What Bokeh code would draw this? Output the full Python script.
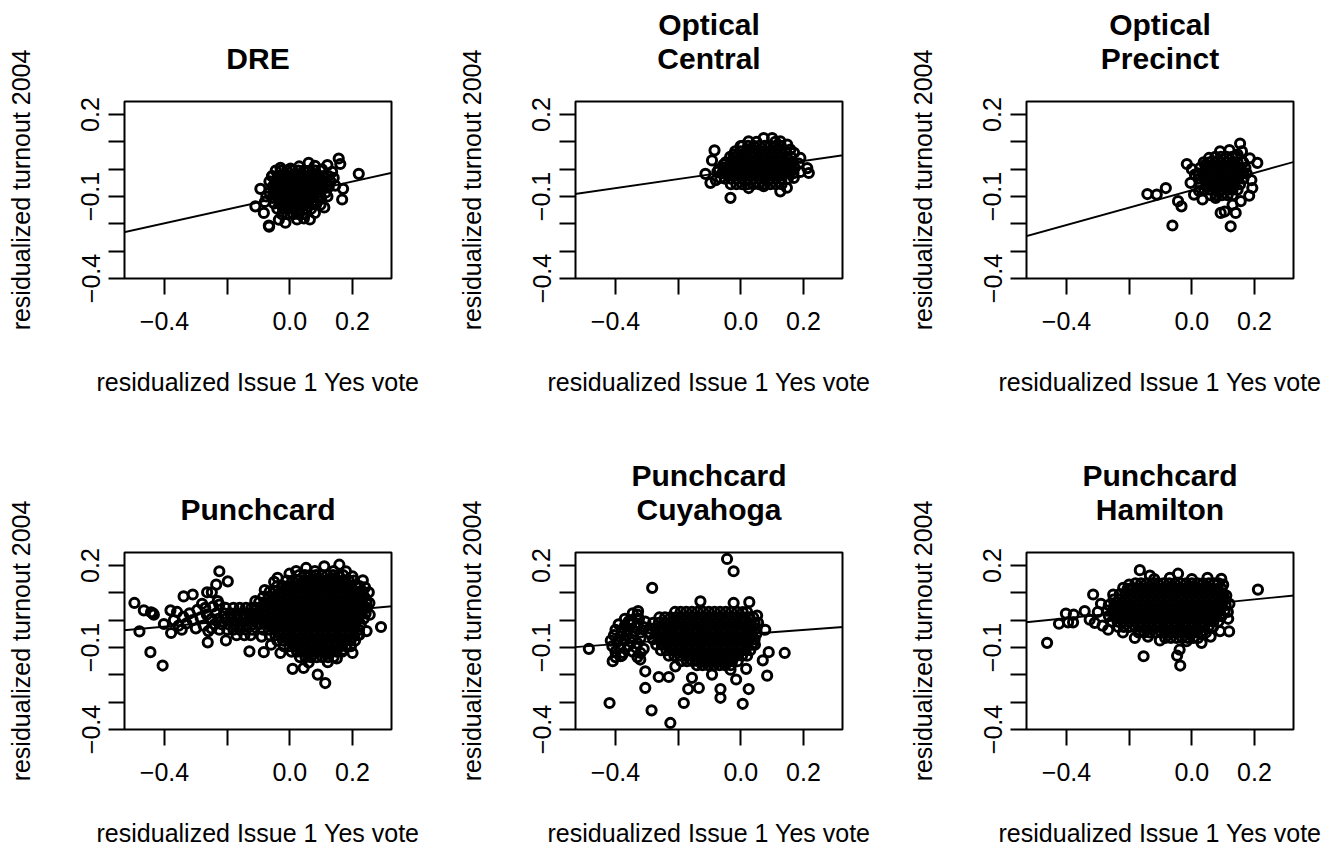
from bokeh.plotting import figure
from bokeh.models import Range1d, FixedTicker, Slope, LinearAxis
from bokeh.layouts import column, row
from bokeh.embed import file_html
from bokeh.resources import INLINE

FONT = "Liberation Sans"

titles = [["DRE"], ["Optical", "Central"], ["Optical", "Precinct"],
          ["Punchcard"], ["Punchcard", "Cuyahoga"], ["Punchcard", "Hamilton"]]
x_label = "residualized Issue 1 Yes vote"
y_label = "residualized turnout 2004"
x_ticks = [-0.4, -0.2, 0.0, 0.2]
x_tick_labels = ["\u22120.4", "", "0.0", "0.2"]
y_ticks = [-0.4, -0.3, -0.2, -0.1, 0.0, 0.1, 0.2]
y_tick_labels = ["\u22120.4", "", "", "\u22120.1", "", "", "0.2"]

# fitted regression lines (intercept, slope)
line_intercepts = [-0.096, -0.003, -0.077, 0.0175, -0.053, 0.053]
line_slopes = [0.255, 0.166, 0.318, 0.103, 0.086, 0.115]

# ---------------- DRE ----------------
dre_pts = [
    (-0.045, -0.005), (-0.027, -0.005), (-0.009, -0.005), (0.009, -0.005), (0.027, -0.005), (0.045, -0.005), (0.063, -0.005), (0.081, -0.005), (0.099, -0.005),
    (-0.056, -0.025), (-0.038, -0.025), (-0.02, -0.025), (-0.002, -0.025), (0.016, -0.025), (0.034, -0.025), (0.052, -0.025), (0.07, -0.025), (0.088, -0.025), (0.106, -0.025), (0.124, -0.025),
    (-0.065, -0.045), (-0.047, -0.045), (-0.029, -0.045), (-0.011, -0.045), (0.007, -0.045), (0.025, -0.045), (0.043, -0.045), (0.061, -0.045), (0.079, -0.045), (0.097, -0.045), (0.115, -0.045), (0.13, -0.045),
    (-0.056, -0.065), (-0.038, -0.065), (-0.02, -0.065), (-0.002, -0.065), (0.016, -0.065), (0.034, -0.065), (0.052, -0.065), (0.07, -0.065), (0.088, -0.065), (0.106, -0.065), (0.124, -0.065),
    (-0.065, -0.085), (-0.047, -0.085), (-0.029, -0.085), (-0.011, -0.085), (0.007, -0.085), (0.025, -0.085), (0.043, -0.085), (0.061, -0.085), (0.079, -0.085), (0.097, -0.085), (0.115, -0.085),
    (-0.056, -0.105), (-0.038, -0.105), (-0.02, -0.105), (-0.002, -0.105), (0.016, -0.105), (0.034, -0.105), (0.052, -0.105), (0.07, -0.105), (0.088, -0.105), (0.1, -0.105),
    (-0.05, -0.125), (-0.032, -0.125), (-0.014, -0.125), (0.004, -0.125), (0.022, -0.125), (0.04, -0.125), (0.058, -0.125), (0.076, -0.125), (0.085, -0.125),
    (-0.04, -0.145), (-0.022, -0.145), (-0.004, -0.145), (0.014, -0.145), (0.032, -0.145), (0.05, -0.145), (0.068, -0.145),
    (-0.025, -0.165), (-0.007, -0.165), (0.011, -0.165), (0.029, -0.165), (0.047, -0.165),
    (0.156, 0.039), (0.161, 0.019), (0.22, -0.017), (0.17, -0.072), (0.167, -0.111), (0.06, 0.023), (0.103, -0.001),
    (-0.094, -0.072), (-0.11, -0.136), (-0.067, -0.206), (-0.066, -0.21), (-0.014, -0.196), (0.064, -0.184), (0.023, -0.184),
    (0.002, 0.002), (-0.057, -0.026), (-0.083, -0.16), (0.14, -0.032), (0.098, -0.13), (0.135, -0.01), (0.145, -0.06),
    (0.12, -0.1), (0.11, -0.14), (-0.075, -0.1), (-0.08, -0.12), (-0.035, -0.185), (0.045, -0.18), (0.08, -0.16),
    (0.03, 0.01), (-0.03, 0.005), (0.08, 0.012), (0.12, 0.015),
]

# ---------------- Optical Central ----------------
oc_pts = [
    (0.005, 0.085), (0.023, 0.085), (0.041, 0.085), (0.059, 0.085), (0.077, 0.085), (0.095, 0.085), (0.113, 0.085), (0.128, 0.085),
    (-0.018, 0.065), (0.0, 0.065), (0.018, 0.065), (0.036, 0.065), (0.054, 0.065), (0.072, 0.065), (0.09, 0.065), (0.108, 0.065), (0.126, 0.065), (0.144, 0.065),
    (-0.034, 0.045), (-0.016, 0.045), (0.002, 0.045), (0.02, 0.045), (0.038, 0.045), (0.056, 0.045), (0.074, 0.045), (0.092, 0.045), (0.11, 0.045), (0.128, 0.045), (0.146, 0.045), (0.16, 0.045),
    (-0.048, 0.025), (-0.03, 0.025), (-0.012, 0.025), (0.006, 0.025), (0.024, 0.025), (0.042, 0.025), (0.06, 0.025), (0.078, 0.025), (0.096, 0.025), (0.114, 0.025), (0.132, 0.025), (0.15, 0.025), (0.166, 0.025),
    (-0.055, 0.005), (-0.037, 0.005), (-0.019, 0.005), (-0.001, 0.005), (0.017, 0.005), (0.035, 0.005), (0.053, 0.005), (0.071, 0.005), (0.089, 0.005), (0.107, 0.005), (0.125, 0.005), (0.143, 0.005), (0.161, 0.005), (0.172, 0.005),
    (-0.06, -0.015), (-0.042, -0.015), (-0.024, -0.015), (-0.006, -0.015), (0.012, -0.015), (0.03, -0.015), (0.048, -0.015), (0.066, -0.015), (0.084, -0.015), (0.102, -0.015), (0.12, -0.015), (0.138, -0.015), (0.156, -0.015), (0.168, -0.015),
    (-0.05, -0.035), (-0.032, -0.035), (-0.014, -0.035), (0.004, -0.035), (0.022, -0.035), (0.04, -0.035), (0.058, -0.035), (0.076, -0.035), (0.094, -0.035), (0.112, -0.035), (0.13, -0.035), (0.15, -0.035),
    (-0.032, -0.055), (-0.014, -0.055), (0.004, -0.055), (0.022, -0.055), (0.04, -0.055), (0.058, -0.055), (0.076, -0.055), (0.094, -0.055), (0.112, -0.055), (0.13, -0.055),
    (-0.084, 0.069), (-0.092, 0.032), (-0.113, -0.017), (-0.097, -0.05), (-0.033, -0.105), (-0.023, 0.053), (0.217, -0.014),
    (0.212, 0.004), (0.126, -0.081), (0.073, 0.114), (0.1, 0.114), (0.025, 0.102), (0.025, -0.069), (-0.055, 0.017),
    (0.148, 0.09), (0.169, -0.032), (0.19, 0.041), (-0.065, -0.032), (0.073, -0.062), (0.147, -0.068), (0.126, 0.102),
    (0.158, 0.072), (-0.001, 0.084), (-0.075, -0.01), (-0.08, -0.04), (-0.07, 0.0), (0.05, 0.1), (0.11, 0.1),
    (0.185, 0.02), (0.19, -0.01), (0.17, 0.06),
]

# ---------------- Optical Precinct ----------------
op_pts = [
    (0.075, 0.045), (0.093, 0.045), (0.111, 0.045), (0.129, 0.045), (0.142, 0.045),
    (0.038, 0.025), (0.056, 0.025), (0.074, 0.025), (0.092, 0.025), (0.11, 0.025), (0.128, 0.025), (0.146, 0.025), (0.164, 0.025),
    (0.027, 0.005), (0.045, 0.005), (0.063, 0.005), (0.081, 0.005), (0.099, 0.005), (0.117, 0.005), (0.135, 0.005), (0.153, 0.005), (0.171, 0.005),
    (0.02, -0.015), (0.038, -0.015), (0.056, -0.015), (0.074, -0.015), (0.092, -0.015), (0.11, -0.015), (0.128, -0.015), (0.146, -0.015), (0.164, -0.015), (0.175, -0.015),
    (0.022, -0.035), (0.04, -0.035), (0.058, -0.035), (0.076, -0.035), (0.094, -0.035), (0.112, -0.035), (0.13, -0.035), (0.148, -0.035), (0.165, -0.035),
    (0.028, -0.055), (0.046, -0.055), (0.064, -0.055), (0.082, -0.055), (0.1, -0.055), (0.118, -0.055), (0.136, -0.055), (0.154, -0.055),
    (0.04, -0.075), (0.058, -0.075), (0.076, -0.075), (0.094, -0.075), (0.112, -0.075), (0.13, -0.075), (0.146, -0.075),
    (0.06, -0.095), (0.078, -0.095), (0.096, -0.095), (0.114, -0.095), (0.13, -0.095),
    (-0.142, -0.091), (-0.112, -0.093), (-0.083, -0.069), (-0.062, -0.206), (-0.044, -0.117), (-0.033, -0.136), (-0.016, 0.019),
    (0.154, 0.094), (0.209, 0.023), (0.124, -0.209), (0.092, -0.16), (0.14, -0.16), (0.183, -0.097), (0.193, -0.069),
    (0.055, 0.041), (0.044, 0.017), (-0.004, -0.05), (0.146, 0.053), (0.156, -0.117), (0.13, -0.13), (0.105, -0.155),
    (0.034, -0.111), (0.076, -0.105), (0.007, -0.093), (0.023, -0.08), (0.01, -0.02), (0.0, 0.0), (0.16, 0.065),
    (0.12, 0.07), (0.09, 0.065), (0.185, 0.04), (0.19, -0.04),
]

# ---------------- Punchcard ----------------
pc_pts = [
    (0.03, 0.165), (0.048, 0.165), (0.066, 0.165), (0.084, 0.165), (0.102, 0.165), (0.12, 0.165), (0.138, 0.165), (0.156, 0.165), (0.17, 0.165),
    (-0.01, 0.145), (0.008, 0.145), (0.026, 0.145), (0.044, 0.145), (0.062, 0.145), (0.08, 0.145), (0.098, 0.145), (0.116, 0.145), (0.134, 0.145), (0.152, 0.145), (0.17, 0.145), (0.188, 0.145), (0.205, 0.145),
    (-0.04, 0.125), (-0.022, 0.125), (-0.004, 0.125), (0.014, 0.125), (0.032, 0.125), (0.05, 0.125), (0.068, 0.125), (0.086, 0.125), (0.104, 0.125), (0.122, 0.125), (0.14, 0.125), (0.158, 0.125), (0.176, 0.125), (0.194, 0.125), (0.212, 0.125), (0.222, 0.125),
    (-0.064, 0.105), (-0.046, 0.105), (-0.028, 0.105), (-0.01, 0.105), (0.008, 0.105), (0.026, 0.105), (0.044, 0.105), (0.062, 0.105), (0.08, 0.105), (0.098, 0.105), (0.116, 0.105), (0.134, 0.105), (0.152, 0.105), (0.17, 0.105), (0.188, 0.105), (0.206, 0.105), (0.224, 0.105), (0.232, 0.105),
    (-0.085, 0.085), (-0.067, 0.085), (-0.049, 0.085), (-0.031, 0.085), (-0.013, 0.085), (0.005, 0.085), (0.023, 0.085), (0.041, 0.085), (0.059, 0.085), (0.077, 0.085), (0.095, 0.085), (0.113, 0.085), (0.131, 0.085), (0.149, 0.085), (0.167, 0.085), (0.185, 0.085), (0.203, 0.085), (0.221, 0.085), (0.238, 0.085),
    (-0.098, 0.065), (-0.08, 0.065), (-0.062, 0.065), (-0.044, 0.065), (-0.026, 0.065), (-0.008, 0.065), (0.01, 0.065), (0.028, 0.065), (0.046, 0.065), (0.064, 0.065), (0.082, 0.065), (0.1, 0.065), (0.118, 0.065), (0.136, 0.065), (0.154, 0.065), (0.172, 0.065), (0.19, 0.065), (0.208, 0.065), (0.226, 0.065), (0.244, 0.065),
    (-0.106, 0.045), (-0.088, 0.045), (-0.07, 0.045), (-0.052, 0.045), (-0.034, 0.045), (-0.016, 0.045), (0.002, 0.045), (0.02, 0.045), (0.038, 0.045), (0.056, 0.045), (0.074, 0.045), (0.092, 0.045), (0.11, 0.045), (0.128, 0.045), (0.146, 0.045), (0.164, 0.045), (0.182, 0.045), (0.2, 0.045), (0.218, 0.045), (0.236, 0.045), (0.246, 0.045),
    (-0.104, 0.025), (-0.08, 0.025), (-0.062, 0.025), (-0.044, 0.025), (-0.026, 0.025), (-0.008, 0.025), (0.01, 0.025), (0.028, 0.025), (0.046, 0.025), (0.064, 0.025), (0.082, 0.025), (0.1, 0.025), (0.118, 0.025), (0.136, 0.025), (0.154, 0.025), (0.172, 0.025), (0.19, 0.025), (0.208, 0.025), (0.226, 0.025), (0.242, 0.025),
    (-0.106, 0.005), (-0.088, 0.005), (-0.07, 0.005), (-0.052, 0.005), (-0.034, 0.005), (-0.016, 0.005), (0.002, 0.005), (0.02, 0.005), (0.038, 0.005), (0.056, 0.005), (0.074, 0.005), (0.092, 0.005), (0.11, 0.005), (0.128, 0.005), (0.146, 0.005), (0.164, 0.005), (0.182, 0.005), (0.2, 0.005), (0.218, 0.005), (0.236, 0.005),
    (-0.098, -0.015), (-0.08, -0.015), (-0.062, -0.015), (-0.044, -0.015), (-0.026, -0.015), (-0.008, -0.015), (0.01, -0.015), (0.028, -0.015), (0.046, -0.015), (0.064, -0.015), (0.082, -0.015), (0.1, -0.015), (0.118, -0.015), (0.136, -0.015), (0.154, -0.015), (0.172, -0.015), (0.19, -0.015), (0.208, -0.015), (0.226, -0.015),
    (-0.085, -0.035), (-0.067, -0.035), (-0.049, -0.035), (-0.031, -0.035), (-0.013, -0.035), (0.005, -0.035), (0.023, -0.035), (0.041, -0.035), (0.059, -0.035), (0.077, -0.035), (0.095, -0.035), (0.113, -0.035), (0.131, -0.035), (0.149, -0.035), (0.167, -0.035), (0.185, -0.035), (0.203, -0.035), (0.221, -0.035),
    (-0.064, -0.055), (-0.046, -0.055), (-0.028, -0.055), (-0.01, -0.055), (0.008, -0.055), (0.026, -0.055), (0.044, -0.055), (0.062, -0.055), (0.08, -0.055), (0.098, -0.055), (0.116, -0.055), (0.134, -0.055), (0.152, -0.055), (0.17, -0.055), (0.188, -0.055), (0.206, -0.055), (0.218, -0.055),
    (-0.04, -0.075), (-0.022, -0.075), (-0.004, -0.075), (0.014, -0.075), (0.032, -0.075), (0.05, -0.075), (0.068, -0.075), (0.086, -0.075), (0.104, -0.075), (0.122, -0.075), (0.14, -0.075), (0.158, -0.075), (0.176, -0.075), (0.194, -0.075), (0.208, -0.075),
    (-0.019, -0.095), (-0.001, -0.095), (0.017, -0.095), (0.035, -0.095), (0.053, -0.095), (0.071, -0.095), (0.089, -0.095), (0.107, -0.095), (0.125, -0.095), (0.143, -0.095), (0.161, -0.095), (0.179, -0.095), (0.195, -0.095),
    (0.005, -0.115), (0.023, -0.115), (0.041, -0.115), (0.059, -0.115), (0.077, -0.115), (0.095, -0.115), (0.113, -0.115), (0.131, -0.115), (0.149, -0.115), (0.167, -0.115),
    (0.032, -0.135), (0.05, -0.135), (0.068, -0.135), (0.086, -0.135), (0.104, -0.135), (0.122, -0.135), (0.14, -0.135),
    (-0.205, 0.045), (-0.18, 0.045), (-0.16, 0.045), (-0.14, 0.045), (-0.122, 0.045),
    (-0.235, 0.025), (-0.21, 0.025), (-0.19, 0.025), (-0.17, 0.025), (-0.15, 0.025), (-0.13, 0.025), (-0.116, 0.025),
    (-0.25, 0.005), (-0.228, 0.005), (-0.206, 0.005), (-0.186, 0.005), (-0.166, 0.005), (-0.146, 0.005), (-0.126, 0.005),
    (-0.24, -0.015), (-0.218, -0.015), (-0.196, -0.015), (-0.176, -0.015), (-0.156, -0.015), (-0.136, -0.015), (-0.118, -0.015),
    (-0.225, -0.035), (-0.2, -0.035), (-0.18, -0.035), (-0.16, -0.035), (-0.14, -0.035), (-0.12, -0.035),
    (-0.17, -0.055), (-0.145, -0.055), (-0.125, -0.055),
    (-0.37, 0.0), (-0.355, -0.02), (-0.34, 0.012), (-0.33, -0.012), (-0.32, 0.025), (-0.31, 0.0), (-0.3, -0.03),
    (-0.295, 0.038), (-0.285, 0.01), (-0.275, -0.02), (-0.27, 0.045), (-0.265, 0.02), (-0.26, -0.04), (-0.36, 0.03),
    (-0.345, -0.035), (-0.28, 0.06), (-0.245, 0.05), (-0.23, 0.07), (-0.25, -0.03),
    (-0.496, 0.063), (-0.466, 0.036), (-0.443, 0.029), (-0.434, 0.02), (-0.437, 0.025), (-0.48, -0.041), (-0.445, -0.117),
    (-0.406, -0.166), (-0.402, -0.014), (-0.381, 0.036), (-0.379, -0.047), (-0.339, 0.087), (-0.31, 0.094), (-0.264, 0.102),
    (-0.249, 0.102), (-0.235, 0.13), (-0.225, 0.179), (-0.198, 0.142), (-0.225, 0.057), (-0.262, -0.081), (-0.204, -0.074),
    (-0.129, -0.114), (-0.083, -0.117), (-0.039, 0.155), (0.009, -0.178), (0.044, -0.175), (0.089, -0.199), (0.113, -0.23),
    (0.121, -0.154), (0.052, 0.191), (0.11, 0.197), (0.158, 0.203), (0.179, 0.179), (0.233, 0.146), (0.252, 0.102),
    (0.291, -0.025), (0.222, -0.053), (0.169, -0.108), (0.254, 0.063), (-0.001, 0.17), (0.24, 0.12), (0.255, 0.02),
    (0.245, -0.04), (0.2, -0.12), (0.15, -0.14), (0.06, -0.155), (-0.03, -0.12), (-0.06, -0.09), (-0.09, -0.06),
    (-0.11, 0.07), (-0.08, 0.11), (-0.05, 0.14), (0.02, 0.18), (0.08, 0.18), (0.14, 0.18), (0.2, 0.16),
]

# ---------------- Punchcard Cuyahoga ----------------
cu_pts = [
    (-0.21, 0.03), (-0.192, 0.03), (-0.174, 0.03), (-0.156, 0.03), (-0.138, 0.03), (-0.12, 0.03), (-0.102, 0.03), (-0.084, 0.03), (-0.066, 0.03), (-0.048, 0.03), (-0.03, 0.03), (-0.012, 0.03), (0.006, 0.03), (0.02, 0.03),
    (-0.26, 0.01), (-0.242, 0.01), (-0.224, 0.01), (-0.206, 0.01), (-0.188, 0.01), (-0.17, 0.01), (-0.152, 0.01), (-0.134, 0.01), (-0.116, 0.01), (-0.098, 0.01), (-0.08, 0.01), (-0.062, 0.01), (-0.044, 0.01), (-0.026, 0.01), (-0.008, 0.01), (0.01, 0.01), (0.028, 0.01), (0.04, 0.01),
    (-0.28, -0.01), (-0.262, -0.01), (-0.244, -0.01), (-0.226, -0.01), (-0.208, -0.01), (-0.19, -0.01), (-0.172, -0.01), (-0.154, -0.01), (-0.136, -0.01), (-0.118, -0.01), (-0.1, -0.01), (-0.082, -0.01), (-0.064, -0.01), (-0.046, -0.01), (-0.028, -0.01), (-0.01, -0.01), (0.008, -0.01), (0.026, -0.01), (0.044, -0.01), (0.055, -0.01),
    (-0.29, -0.03), (-0.272, -0.03), (-0.254, -0.03), (-0.236, -0.03), (-0.218, -0.03), (-0.2, -0.03), (-0.182, -0.03), (-0.164, -0.03), (-0.146, -0.03), (-0.128, -0.03), (-0.11, -0.03), (-0.092, -0.03), (-0.074, -0.03), (-0.056, -0.03), (-0.038, -0.03), (-0.02, -0.03), (-0.002, -0.03), (0.016, -0.03), (0.034, -0.03), (0.05, -0.03),
    (-0.288, -0.05), (-0.27, -0.05), (-0.252, -0.05), (-0.234, -0.05), (-0.216, -0.05), (-0.198, -0.05), (-0.18, -0.05), (-0.162, -0.05), (-0.144, -0.05), (-0.126, -0.05), (-0.108, -0.05), (-0.09, -0.05), (-0.072, -0.05), (-0.054, -0.05), (-0.036, -0.05), (-0.018, -0.05), (0.0, -0.05), (0.018, -0.05), (0.036, -0.05), (0.05, -0.05),
    (-0.28, -0.07), (-0.262, -0.07), (-0.244, -0.07), (-0.226, -0.07), (-0.208, -0.07), (-0.19, -0.07), (-0.172, -0.07), (-0.154, -0.07), (-0.136, -0.07), (-0.118, -0.07), (-0.1, -0.07), (-0.082, -0.07), (-0.064, -0.07), (-0.046, -0.07), (-0.028, -0.07), (-0.01, -0.07), (0.008, -0.07), (0.026, -0.07), (0.044, -0.07),
    (-0.27, -0.09), (-0.252, -0.09), (-0.234, -0.09), (-0.216, -0.09), (-0.198, -0.09), (-0.18, -0.09), (-0.162, -0.09), (-0.144, -0.09), (-0.126, -0.09), (-0.108, -0.09), (-0.09, -0.09), (-0.072, -0.09), (-0.054, -0.09), (-0.036, -0.09), (-0.018, -0.09), (0.0, -0.09), (0.018, -0.09), (0.036, -0.09), (0.045, -0.09),
    (-0.255, -0.11), (-0.237, -0.11), (-0.219, -0.11), (-0.201, -0.11), (-0.183, -0.11), (-0.165, -0.11), (-0.147, -0.11), (-0.129, -0.11), (-0.111, -0.11), (-0.093, -0.11), (-0.075, -0.11), (-0.057, -0.11), (-0.039, -0.11), (-0.021, -0.11), (-0.003, -0.11), (0.015, -0.11), (0.03, -0.11),
    (-0.23, -0.13), (-0.212, -0.13), (-0.194, -0.13), (-0.176, -0.13), (-0.158, -0.13), (-0.14, -0.13), (-0.122, -0.13), (-0.104, -0.13), (-0.086, -0.13), (-0.068, -0.13), (-0.05, -0.13), (-0.032, -0.13), (-0.014, -0.13), (0.004, -0.13), (0.02, -0.13),
    (-0.19, -0.15), (-0.172, -0.15), (-0.154, -0.15), (-0.136, -0.15), (-0.118, -0.15), (-0.1, -0.15), (-0.082, -0.15), (-0.064, -0.15), (-0.046, -0.15), (-0.028, -0.15), (-0.01, -0.15),
    (-0.14, -0.165), (-0.122, -0.165), (-0.104, -0.165), (-0.086, -0.165), (-0.068, -0.165), (-0.05, -0.165), (-0.032, -0.165),
    (-0.345, 0.025), (-0.33, 0.02), (-0.37, 0.005), (-0.35, 0.0), (-0.325, 0.005), (-0.305, -0.005),
    (-0.39, -0.015), (-0.37, -0.02), (-0.35, -0.015), (-0.33, -0.02), (-0.31, -0.025),
    (-0.4, -0.035), (-0.38, -0.04), (-0.36, -0.035), (-0.34, -0.04), (-0.32, -0.045),
    (-0.405, -0.055), (-0.385, -0.06), (-0.365, -0.055), (-0.345, -0.06), (-0.32, -0.065),
    (-0.415, -0.075), (-0.395, -0.08), (-0.37, -0.075), (-0.35, -0.08), (-0.33, -0.085),
    (-0.41, -0.095), (-0.385, -0.1), (-0.36, -0.095), (-0.335, -0.1), (-0.31, -0.105),
    (-0.4, -0.115), (-0.375, -0.12), (-0.345, -0.115), (-0.32, -0.12),
    (-0.4, -0.135), (-0.38, -0.13), (-0.33, -0.135),
    (-0.044, 0.224), (-0.023, 0.179), (-0.283, 0.118), (-0.485, -0.105), (-0.419, -0.303), (-0.285, -0.33), (-0.225, -0.376),
    (-0.305, -0.248), (-0.182, -0.303), (-0.168, -0.252), (-0.134, -0.248), (-0.065, -0.252), (-0.065, -0.284), (0.006, -0.306),
    (0.025, -0.252), (0.084, -0.203), (-0.015, -0.217), (-0.092, -0.199), (0.14, -0.12), (0.089, -0.117), (0.07, -0.147),
    (0.017, -0.178), (-0.033, -0.181), (-0.129, 0.069), (-0.023, 0.063), (0.027, 0.066), (-0.328, 0.033), (-0.358, -0.004),
    (-0.409, -0.15), (-0.384, -0.132), (-0.305, -0.187), (-0.262, -0.208), (-0.23, -0.208), (-0.156, -0.211), (-0.321, -0.144),
    (0.078, -0.035), (0.052, 0.017), (-0.209, -0.169),
]

# ---------------- Punchcard Hamilton ----------------
ha_pts = [
    (-0.18, 0.135), (-0.162, 0.135), (-0.144, 0.135), (-0.126, 0.135), (-0.108, 0.135), (-0.09, 0.135), (-0.072, 0.135), (-0.054, 0.135), (-0.036, 0.135), (-0.018, 0.135), (0.0, 0.135), (0.018, 0.135), (0.036, 0.135), (0.054, 0.135), (0.072, 0.135), (0.085, 0.135),
    (-0.205, 0.115), (-0.187, 0.115), (-0.169, 0.115), (-0.151, 0.115), (-0.133, 0.115), (-0.115, 0.115), (-0.097, 0.115), (-0.079, 0.115), (-0.061, 0.115), (-0.043, 0.115), (-0.025, 0.115), (-0.007, 0.115), (0.011, 0.115), (0.029, 0.115), (0.047, 0.115), (0.065, 0.115), (0.083, 0.115), (0.095, 0.115),
    (-0.23, 0.095), (-0.212, 0.095), (-0.194, 0.095), (-0.176, 0.095), (-0.158, 0.095), (-0.14, 0.095), (-0.122, 0.095), (-0.104, 0.095), (-0.086, 0.095), (-0.068, 0.095), (-0.05, 0.095), (-0.032, 0.095), (-0.014, 0.095), (0.004, 0.095), (0.022, 0.095), (0.04, 0.095), (0.058, 0.095), (0.076, 0.095), (0.094, 0.095), (0.1, 0.095),
    (-0.25, 0.075), (-0.232, 0.075), (-0.214, 0.075), (-0.196, 0.075), (-0.178, 0.075), (-0.16, 0.075), (-0.142, 0.075), (-0.124, 0.075), (-0.106, 0.075), (-0.088, 0.075), (-0.07, 0.075), (-0.052, 0.075), (-0.034, 0.075), (-0.016, 0.075), (0.002, 0.075), (0.02, 0.075), (0.038, 0.075), (0.056, 0.075), (0.074, 0.075), (0.092, 0.075), (0.105, 0.075),
    (-0.265, 0.055), (-0.247, 0.055), (-0.229, 0.055), (-0.211, 0.055), (-0.193, 0.055), (-0.175, 0.055), (-0.157, 0.055), (-0.139, 0.055), (-0.121, 0.055), (-0.103, 0.055), (-0.085, 0.055), (-0.067, 0.055), (-0.049, 0.055), (-0.031, 0.055), (-0.013, 0.055), (0.005, 0.055), (0.023, 0.055), (0.041, 0.055), (0.059, 0.055), (0.077, 0.055), (0.095, 0.055), (0.108, 0.055),
    (-0.27, 0.035), (-0.252, 0.035), (-0.234, 0.035), (-0.216, 0.035), (-0.198, 0.035), (-0.18, 0.035), (-0.162, 0.035), (-0.144, 0.035), (-0.126, 0.035), (-0.108, 0.035), (-0.09, 0.035), (-0.072, 0.035), (-0.054, 0.035), (-0.036, 0.035), (-0.018, 0.035), (0.0, 0.035), (0.018, 0.035), (0.036, 0.035), (0.054, 0.035), (0.072, 0.035), (0.09, 0.035), (0.105, 0.035),
    (-0.265, 0.015), (-0.247, 0.015), (-0.229, 0.015), (-0.211, 0.015), (-0.193, 0.015), (-0.175, 0.015), (-0.157, 0.015), (-0.139, 0.015), (-0.121, 0.015), (-0.103, 0.015), (-0.085, 0.015), (-0.067, 0.015), (-0.049, 0.015), (-0.031, 0.015), (-0.013, 0.015), (0.005, 0.015), (0.023, 0.015), (0.041, 0.015), (0.059, 0.015), (0.077, 0.015), (0.095, 0.015),
    (-0.255, -0.005), (-0.237, -0.005), (-0.219, -0.005), (-0.201, -0.005), (-0.183, -0.005), (-0.165, -0.005), (-0.147, -0.005), (-0.129, -0.005), (-0.111, -0.005), (-0.093, -0.005), (-0.075, -0.005), (-0.057, -0.005), (-0.039, -0.005), (-0.021, -0.005), (-0.003, -0.005), (0.015, -0.005), (0.033, -0.005), (0.051, -0.005), (0.069, -0.005), (0.085, -0.005),
    (-0.235, -0.025), (-0.217, -0.025), (-0.199, -0.025), (-0.181, -0.025), (-0.163, -0.025), (-0.145, -0.025), (-0.127, -0.025), (-0.109, -0.025), (-0.091, -0.025), (-0.073, -0.025), (-0.055, -0.025), (-0.037, -0.025), (-0.019, -0.025), (-0.001, -0.025), (0.017, -0.025), (0.035, -0.025), (0.053, -0.025), (0.068, -0.025),
    (-0.17, -0.045), (-0.152, -0.045), (-0.134, -0.045), (-0.116, -0.045), (-0.098, -0.045), (-0.08, -0.045), (-0.062, -0.045), (-0.044, -0.045), (-0.026, -0.045), (-0.008, -0.045), (0.01, -0.045), (0.028, -0.045), (0.045, -0.045),
    (-0.085, -0.065), (-0.067, -0.065), (-0.049, -0.065), (-0.031, -0.065), (-0.013, -0.065), (0.005, -0.065), (0.02, -0.065),
    (-0.462, -0.083), (-0.424, -0.013), (-0.402, 0.024), (-0.377, 0.02), (-0.395, -0.008), (-0.379, -0.008), (-0.315, 0.094),
    (-0.342, 0.033), (-0.166, 0.183), (-0.134, 0.163), (-0.044, 0.17), (0.094, 0.151), (0.211, 0.112), (0.119, -0.041),
    (0.116, 0.005), (-0.154, -0.132), (-0.037, -0.166), (-0.047, -0.13), (-0.039, -0.108), (0.031, -0.083), (-0.102, -0.074),
    (-0.182, -0.065), (-0.267, -0.035), (-0.326, 0.002), (-0.251, 0.094), (-0.219, 0.118), (-0.017, -0.077), (0.1, 0.13),
    (-0.3, 0.03), (-0.31, -0.01), (-0.29, 0.06), (-0.285, -0.02), (-0.12, 0.15), (-0.07, 0.155), (0.0, 0.15),
    (0.05, 0.155), (0.11, 0.09), (0.12, 0.06), (0.115, 0.03), (-0.22, -0.045), (-0.14, -0.06), (0.06, -0.06),
    (0.09, -0.04), (-0.2, 0.13),
]

panels = [dre_pts, oc_pts, op_pts, pc_pts, cu_pts, ha_pts]

X_RANGE = (-0.5277, 0.3245)
Y_RANGE = (-0.4, 0.2476)
FRAME_W, FRAME_H = 267, 177
BORDER_LEFT, BORDER_TOP = 124, 101
border_right = [60, 60, 48]
border_bottom = [173, 121]

x_overrides = {t: s for t, s in zip(x_ticks, x_tick_labels)}
y_overrides = {t: s for t, s in zip(y_ticks, y_tick_labels)}


def title_axis(text, standoff):
    ax = LinearAxis(ticker=FixedTicker(ticks=[]), axis_label=text)
    ax.axis_line_color = None
    ax.major_tick_line_color = None
    ax.minor_tick_line_color = None
    ax.major_tick_in = 0
    ax.major_tick_out = 0
    ax.major_label_standoff = 0
    ax.axis_label_standoff = standoff
    ax.axis_label_text_font = FONT
    ax.axis_label_text_font_size = "30px"
    ax.axis_label_text_font_style = "bold"
    ax.axis_label_text_color = "black"
    return ax


figs = []
for i, pts in enumerate(panels):
    r, c = divmod(i, 3)
    p = figure(frame_width=FRAME_W, frame_height=FRAME_H,
               min_border_left=BORDER_LEFT, min_border_right=border_right[c],
               min_border_top=BORDER_TOP, min_border_bottom=border_bottom[r],
               x_range=Range1d(*X_RANGE), y_range=Range1d(*Y_RANGE),
               title_location=None,
               output_backend="svg", toolbar_location=None)
    p.background_fill_color = "white"
    p.border_fill_color = "white"
    p.outline_line_color = "black"
    p.outline_line_width = 2
    p.outline_line_alpha = 1.0
    p.xgrid.visible = False
    p.ygrid.visible = False

    xs = [pt[0] for pt in pts]
    ys = [pt[1] for pt in pts]
    p.scatter(x=xs, y=ys, marker="circle", size=9.2, fill_color=None,
              line_color="black", line_width=3.0)
    p.add_layout(Slope(gradient=line_slopes[i], y_intercept=line_intercepts[i],
                       line_color="black", line_width=1.9))

    for ax in (p.xaxis[0], p.yaxis[0]):
        ax.axis_line_color = None
        ax.major_tick_line_color = "black"
        ax.major_tick_line_width = 2
        ax.major_tick_in = 0
        ax.major_tick_out = 16
        ax.minor_tick_line_color = None
        ax.major_label_text_font = FONT
        ax.major_label_text_font_size = "25px"
        ax.major_label_text_color = "black"
        ax.axis_label_text_font = FONT
        ax.axis_label_text_font_size = "25px"
        ax.axis_label_text_font_style = "normal"
        ax.axis_label_text_color = "black"

    xa = p.xaxis[0]
    xa.ticker = FixedTicker(ticks=x_ticks)
    xa.major_label_overrides = x_overrides
    xa.major_label_standoff = 17
    xa.axis_label = x_label
    xa.axis_label_standoff = 35

    ya = p.yaxis[0]
    ya.ticker = FixedTicker(ticks=y_ticks)
    ya.major_label_overrides = y_overrides
    ya.major_label_orientation = "vertical"
    ya.major_label_standoff = 9
    ya.axis_label = y_label
    ya.axis_label_standoff = 44

    lines = titles[i]
    # innermost line first (closest to the frame), then the line above it
    p.add_layout(title_axis(lines[-1], 27), "above")
    if len(lines) == 2:
        p.add_layout(title_axis(lines[0], -2), "above")
    figs.append(p)

layout = column(row(figs[0], figs[1], figs[2]), row(figs[3], figs[4], figs[5]))
open("out.html", "w").write(file_html(layout, INLINE))
